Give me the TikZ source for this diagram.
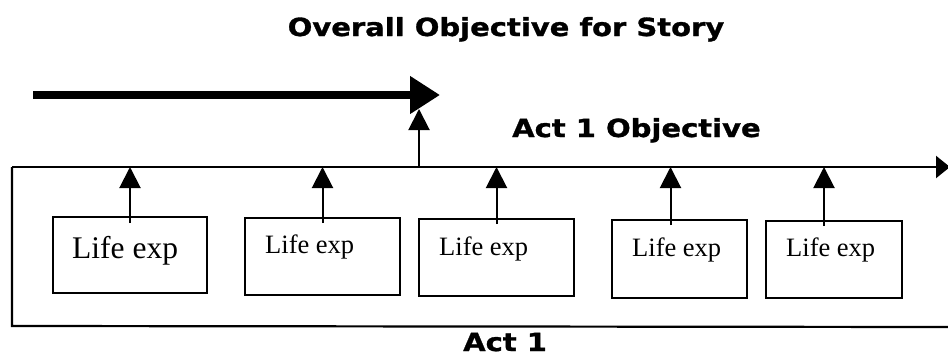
\documentclass[tikz,border=0pt]{standalone}
\usepackage{fontspec}
\setmainfont{Liberation Serif}
\newfontfamily\headfont{DejaVu Sans}[FakeStretch=1.16,FakeBold=1.2]
\usetikzlibrary{arrows.meta}

\tikzset{
  lebox/.style={draw, line width=2pt, anchor=north west, inner sep=0pt},
  lelabel/.style={anchor=base west, inner sep=0pt},
  heading/.style={inner sep=0pt, font=\headfont\bfseries\fontsize{25pt}{30pt}\selectfont},
  feed/.style={line width=2pt, -{Triangle[length=21pt,width=21pt]}},
  frame/.style={line width=2.2pt},
  bigarrow/.style={line width=8pt, -{Triangle[length=30pt,width=36pt]}},
}

\begin{document}
\begin{tikzpicture}[x=1pt,y=1pt]
\useasboundingbox (0,0) rectangle (948,-356);

% headings
\node[heading, anchor=base] (title) at (506,-36) {Overall Objective for Story};
\node[heading, anchor=base west] (actobj) at (512,-137) {Act 1 Objective};
\node[heading, anchor=base west] (act) at (463,-351) {Act 1};

% overall story arrow
\coordinate (os) at (33,-95);
\coordinate (oe) at (440,-95);
\draw[bigarrow] (os) -- (oe);

% act frame: top line runs off to the right as an arrow
\coordinate (tl) at (12,-167);
\coordinate (tr) at (950,-167);
\coordinate (bl) at (12,-326);
\coordinate (br) at (948,-327);
\draw[frame, -{Triangle[length=14pt,width=22pt]}] (tl) -- (tr);
\draw[frame] (tl) -- (bl) -- (br);

% act objective feeding the overall objective
\coordinate (up) at (419,-167);
\coordinate (upend) at (419,-109);
\draw[feed] (up) -- (upend);

% life experience boxes
\node[lebox, minimum width=154pt, minimum height=76pt] (b1) at (52,-216) {};
\node[lebox, minimum width=155pt, minimum height=77pt] (b2) at (244,-217) {};
\node[lebox, minimum width=155pt, minimum height=77pt] (b3) at (418,-218) {};
\node[lebox, minimum width=135pt, minimum height=78pt] (b4) at (611,-219) {};
\node[lebox, minimum width=136pt, minimum height=77pt] (b5) at (765,-220) {};

\node[lelabel, font=\fontsize{31.5pt}{36pt}\selectfont] (t1) at (72,-258) {Life exp};
\node[lelabel, font=\fontsize{26.5pt}{31pt}\selectfont] (t2) at (265,-253) {Life exp};
\node[lelabel, font=\fontsize{26.5pt}{31pt}\selectfont] (t3) at (439,-255) {Life exp};
\node[lelabel, font=\fontsize{26.5pt}{31pt}\selectfont] (t4) at (632,-256) {Life exp};
\node[lelabel, font=\fontsize{26.5pt}{31pt}\selectfont] (t5) at (786,-256) {Life exp};

% each experience feeds the act objective line
\draw[feed] ([yshift=-7pt]b1.north) -- (b1.north |- tl);
\draw[feed] ([yshift=-6pt]b2.north) -- (b2.north |- tl);
\draw[feed] ([yshift=-6pt]b3.north) -- (b3.north |- tl);
\draw[feed] ([xshift=-9pt,yshift=-6pt]b4.north) -- ([xshift=-9pt]b4.north |- tl);
\draw[feed] ([xshift=-10pt,yshift=-6pt]b5.north) -- ([xshift=-10pt]b5.north |- tl);
\end{tikzpicture}
\end{document}
